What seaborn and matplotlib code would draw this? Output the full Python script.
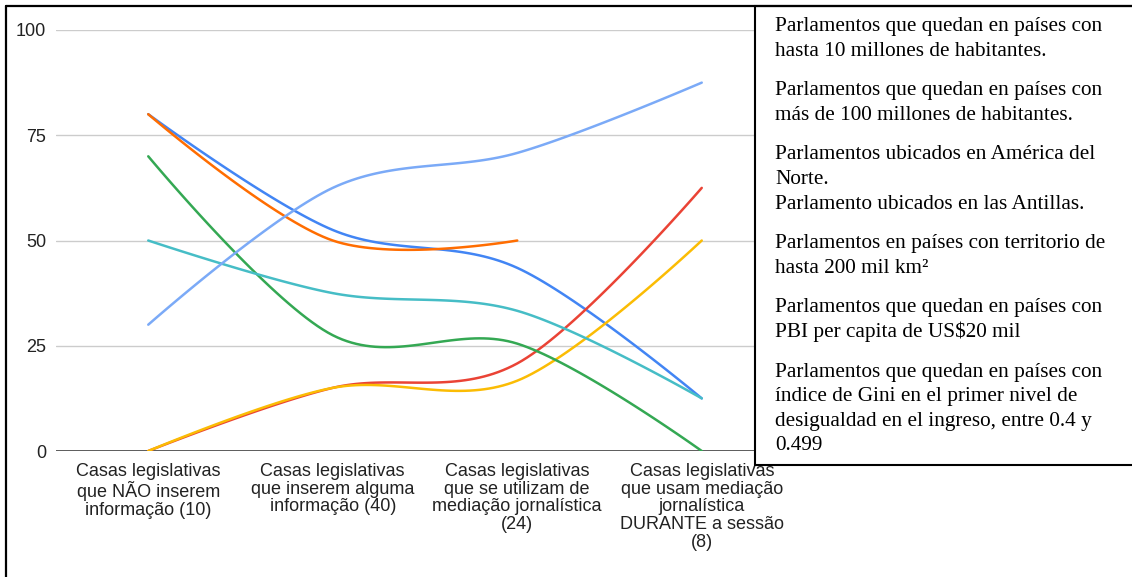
import numpy as np
import pandas as pd
import seaborn as sns
import matplotlib.pyplot as plt
from matplotlib.patches import Rectangle
from matplotlib.lines import Line2D

# categories (x axis)
categorias = [
    "Casas legislativas\nque NÃO inserem\ninformação (10)",
    "Casas legislativas\nque inserem alguma\ninformação (40)",
    "Casas legislativas\nque se utilizam de\nmediação jornalística\n(24)",
    "Casas legislativas\nque usam mediação\njornalística\nDURANTE a sessão\n(8)",
]

# series values (% per category)
hasta_10m = [80, 52.5, 43.5, 12.5]
mas_100m = [0, 15, 20.8, 62.5]
america_norte = [0, 15, 16.7, 50]
antillas = [70, 27.5, 25.5, 0]
territorio = [80, 50, 50, np.nan]
pbi = [50, 37.5, 33.3, 12.5]
gini = [30, 62.5, 70.8, 87.5]

series = {
    "hasta_10m": hasta_10m,
    "mas_100m": mas_100m,
    "america_norte": america_norte,
    "antillas": antillas,
    "territorio": territorio,
    "pbi": pbi,
    "gini": gini,
}
colores = ["#4285F4", "#EA4335", "#FBBC04", "#34A853", "#FF6D01", "#46BDC6", "#7BAAF7"]

y_ticks = [0, 25, 50, 75, 100]

# legend box texts (one list per paragraph)
parrafos = [
    ["Parlamentos que quedan en países con", "hasta 10 millones de habitantes."],
    ["Parlamentos que quedan en países con", "más de 100 millones de habitantes."],
    ["Parlamentos ubicados en América del", "Norte.", "Parlamento ubicados en las Antillas."],
    ["Parlamentos en países con territorio de", "hasta 200 mil km²"],
    ["Parlamentos que quedan en países con", "PBI per capita de US$20 mil"],
    ["Parlamentos que quedan en países con", "índice de Gini en el primer nivel de",
     "desigualdad en el ingreso, entre 0.4 y", "0.499"],
]


def suavizar(vals, n=40):
    # smooth curve through the points (catmull-rom style bezier, like the sheets chart)
    pts = [np.array([i, v], dtype=float) for i, v in enumerate(vals) if not np.isnan(v)]
    out = []
    t = np.linspace(0, 1, n)[:, None]
    for k in range(len(pts) - 1):
        p0, p1 = pts[k], pts[k + 1]
        c1 = p0 + (p1 - pts[k - 1]) / 6 if k > 0 else p0
        c2 = p1 - (pts[k + 2] - p0) / 6 if k + 2 < len(pts) else p1
        seg = (1 - t) ** 3 * p0 + 3 * (1 - t) ** 2 * t * c1 + 3 * (1 - t) * t ** 2 * c2 + t ** 3 * p1
        out.append(seg if k == 0 else seg[1:])
    return np.vstack(out)


rows = []
for nombre, vals in series.items():
    curva = suavizar(vals)
    for j, (x, y) in enumerate(curva):
        rows.append({"serie": nombre, "orden": j, "x": x, "y": y})
df = pd.DataFrame(rows)

sns.set_style("white")
plt.rcParams["font.family"] = ["Liberation Sans", "DejaVu Sans"]

W, H = 1132, 577
fig = plt.figure(figsize=(W / 100, H / 100), dpi=100)
ax = fig.add_axes([56 / W, (H - 451) / H, (794 - 56) / W, (451 - 30) / H])

sns.lineplot(data=df, x="x", y="y", hue="serie", hue_order=list(series.keys()),
             palette=colores, sort=False, estimator=None, lw=1.8, legend=False, ax=ax)

ax.set_xlim(-0.5, 3.5)
ax.set_ylim(0, 100)
ax.set_yticks(y_ticks)
ax.set_yticklabels([str(v) for v in y_ticks], fontsize=13, color="#222222")
ax.set_xticks(range(len(categorias)))
ax.set_xticklabels(categorias, fontsize=13, color="#222222", linespacing=1.06)
ax.tick_params(axis="both", length=0)
ax.tick_params(axis="y", pad=7)
ax.tick_params(axis="x", pad=8.5)
ax.set_xlabel("")
ax.set_ylabel("")
ax.yaxis.grid(True, color="#cccccc", lw=1)
ax.set_axisbelow(True)
ax.axhline(0, color="#333333", lw=1.1, zorder=1)
for s in ax.spines.values():
    s.set_visible(False)

# outer frame
fig.add_artist(Line2D([6 / W, 6 / W], [0, 1 - 6 / H], color="black", lw=1.6))
fig.add_artist(Line2D([6 / W, 1], [1 - 6 / H, 1 - 6 / H], color="black", lw=1.6))

# legend text box
caja = Rectangle((755 / W, 1 - 465 / H), (W - 755 + 5) / W, (465 - 6) / H,
                 transform=fig.transFigure, facecolor="white", edgecolor="black", lw=1.5)
fig.add_artist(caja)

y = 25
for parrafo in parrafos:
    for linea in parrafo:
        fig.text(775 / W, 1 - (y + 6) / H, linea, fontsize=15.3, color="black",
                 family=["Liberation Serif", "DejaVu Serif"], va="baseline", ha="left")
        y += 24.6
    y += 15

fig.savefig("out.png", dpi=100)
